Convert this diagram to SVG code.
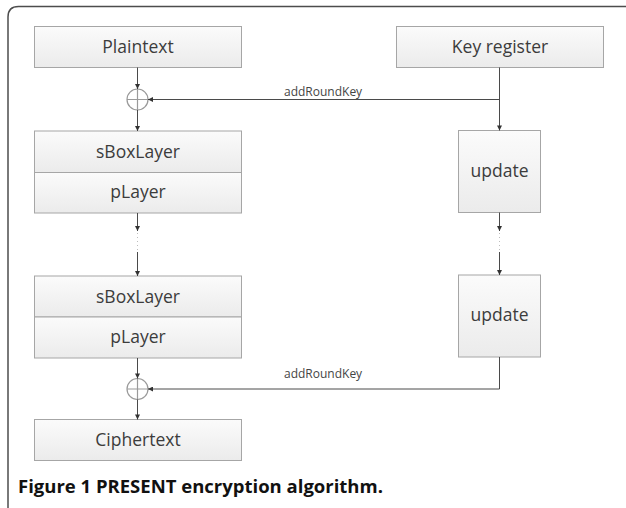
<svg xmlns="http://www.w3.org/2000/svg" width="626" height="508" viewBox="0 0 626 508">
  <defs>
    <linearGradient id="boxFill" x1="0" y1="0" x2="0" y2="1">
      <stop offset="0" stop-color="#fbfbfb"/>
      <stop offset="1" stop-color="#ebebeb"/>
    </linearGradient>
    <marker id="arrow" viewBox="0 0 6 6" refX="6" refY="3" markerWidth="6" markerHeight="5" markerUnits="userSpaceOnUse" orient="auto">
      <path d="M0,0 L6,3 L0,6 z" fill="#333333"/>
    </marker>
    <style>
      .box { fill: url(#boxFill); stroke: #a6a6a6; stroke-width: 1; }
      .lbl { font-family: "Open Sans", "DejaVu Sans", sans-serif; font-size: 17.5px; fill: #3c3c3c; text-anchor: middle; }
      .edge { fill: none; stroke: #4a4a4a; stroke-width: 1; }
      .dots { fill: none; stroke: #bdbdbd; stroke-width: 1; stroke-dasharray: 1 3; }
      .xor { fill: none; stroke: #9a9a9a; stroke-width: 1.2; }
      .key { font-family: "Open Sans", "DejaVu Sans", sans-serif; font-size: 12px; fill: #454545; }
      .cap { font-family: "Open Sans", "DejaVu Sans", sans-serif; font-size: 18.5px; font-weight: bold; fill: #111; }
    </style>
  </defs>

  <rect width="626" height="508" fill="#ffffff"/>

  <!-- panel frame: top and left edges with a rounded corner -->
  <path d="M8,508 V17 Q8,6.5 18.5,6.5 H626" fill="none" stroke="#4d4d4d" stroke-width="1.5"/>

  <!-- data path -->
  <g id="plaintext">
    <rect class="box" x="34.5" y="26.5" width="207" height="41"/>
    <text class="lbl" x="138" y="53">Plaintext</text>
  </g>
  <g id="xor1">
    <circle class="xor" cx="137.5" cy="99.5" r="10.5"/>
    <path class="xor" d="M127,99.5 H148 M137.5,89 V110"/>
  </g>
  <g id="round1">
    <rect class="box" x="34.5" y="131" width="207" height="41.5"/>
    <text class="lbl" x="138" y="157.5">sBoxLayer</text>
    <rect class="box" x="34.5" y="172.5" width="207" height="40.5"/>
    <text class="lbl" x="138" y="197.5">pLayer</text>
  </g>
  <g id="round2">
    <rect class="box" x="34.5" y="276" width="207" height="41"/>
    <text class="lbl" x="138" y="302.5">sBoxLayer</text>
    <rect class="box" x="34.5" y="317" width="207" height="41"/>
    <text class="lbl" x="138" y="343">pLayer</text>
  </g>
  <g id="xor2">
    <circle class="xor" cx="137.5" cy="389" r="10.5"/>
    <path class="xor" d="M127,389 H148 M137.5,378.5 V399.5"/>
  </g>
  <g id="ciphertext">
    <rect class="box" x="34.5" y="419.5" width="207" height="41"/>
    <text class="lbl" x="138" y="446">Ciphertext</text>
  </g>

  <!-- key schedule -->
  <g id="key-register">
    <rect class="box" x="396.5" y="26.5" width="207" height="41"/>
    <text class="lbl" x="500" y="53">Key register</text>
  </g>
  <g id="update1">
    <rect class="box" x="458.5" y="130.5" width="82" height="82"/>
    <text class="lbl" x="499.5" y="177">update</text>
  </g>
  <g id="update2">
    <rect class="box" x="458.5" y="275" width="82" height="82"/>
    <text class="lbl" x="499.5" y="321">update</text>
  </g>

  <g id="connectors">
    <!-- data path arrows -->
    <path class="edge" d="M137.5,67.5 V89" marker-end="url(#arrow)"/>
    <path class="edge" d="M137.5,110 V131" marker-end="url(#arrow)"/>
    <path class="edge" d="M137.5,213 V231" marker-end="url(#arrow)"/>
    <path class="dots" d="M137.5,233 V252"/>
    <path class="edge" d="M137.5,252 V276" marker-end="url(#arrow)"/>
    <path class="edge" d="M137.5,358 V378.5" marker-end="url(#arrow)"/>
    <path class="edge" d="M137.5,399.5 V419.5" marker-end="url(#arrow)"/>

    <!-- key schedule arrows -->
    <path class="edge" d="M499.5,67.5 V130.5" marker-end="url(#arrow)"/>
    <path class="edge" d="M499.5,212.5 V231" marker-end="url(#arrow)"/>
    <path class="dots" d="M499.5,233 V252"/>
    <path class="edge" d="M499.5,252 V275" marker-end="url(#arrow)"/>

    <!-- round keys -->
    <path class="edge" d="M499.5,99.5 H148" marker-end="url(#arrow)"/>
    <text class="key" x="284" y="96">addRoundKey</text>
    <path class="edge" d="M499.5,357 V389 H148" marker-end="url(#arrow)"/>
    <text class="key" x="284" y="378">addRoundKey</text>
  </g>

  <text class="cap" x="18" y="493">Figure 1 PRESENT encryption algorithm.</text>
</svg>
